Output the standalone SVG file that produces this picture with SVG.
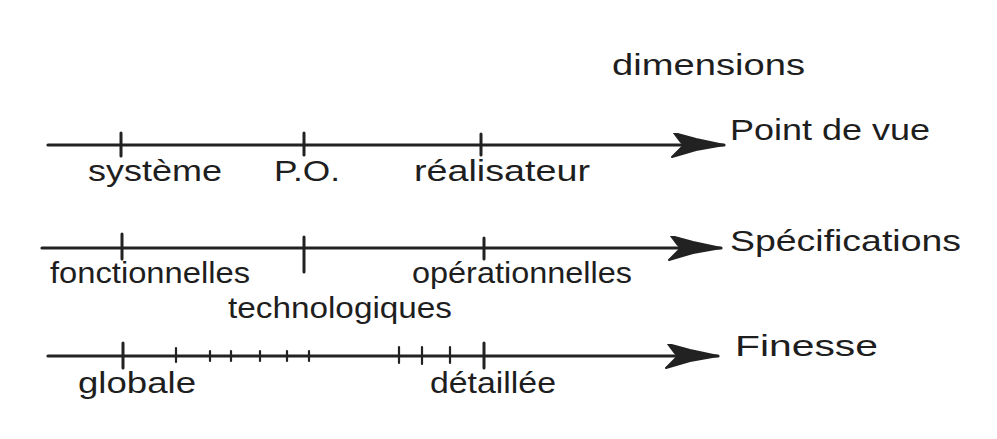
<svg xmlns="http://www.w3.org/2000/svg" width="997" height="439" viewBox="0 0 997 439">
<defs>
<marker id="ah" markerUnits="userSpaceOnUse" markerWidth="62" markerHeight="30" refX="56" refY="12" orient="auto">
<path d="M56,12 L28,6 L6,0 L12,8 L16,12 L10,18 L4,24 L28,17 Z" fill="#222" stroke="#222" stroke-width="2" stroke-linejoin="round"/>
</marker>
<style>
.ax{stroke:#222;stroke-width:3.2;fill:none;stroke-linecap:round}
.tk{stroke:#222;stroke-width:3;stroke-linecap:round}
.tks{stroke:#222;stroke-width:2.2;stroke-linecap:round}
text{font-family:"Liberation Sans","DejaVu Sans",sans-serif;fill:#1e1e1e;font-size:29px}
</style>
</defs>
<rect width="997" height="439" fill="#fff"/>
<g id="title"><text x="612" y="75" textLength="193" lengthAdjust="spacingAndGlyphs">dimensions</text></g>
<g id="connectors">
<line class="ax" x1="48" y1="145" x2="724" y2="145" marker-end="url(#ah)"/>
<line class="ax" x1="42" y1="248" x2="721" y2="248" marker-end="url(#ah)"/>
<line class="ax" x1="48" y1="356" x2="718" y2="356" marker-end="url(#ah)"/>
</g>
<g id="axis-point-de-vue">
<line class="tk" x1="121" y1="133" x2="121" y2="156"/>
<line class="tk" x1="304" y1="133" x2="304" y2="155"/>
<line class="tk" x1="481" y1="134" x2="481" y2="155"/>
<text x="88" y="181" textLength="134" lengthAdjust="spacingAndGlyphs">système</text>
<text x="274" y="181" textLength="66" lengthAdjust="spacingAndGlyphs">P.O.</text>
<text x="414" y="181" textLength="176" lengthAdjust="spacingAndGlyphs">réalisateur</text>
<text x="730" y="140" textLength="200" lengthAdjust="spacingAndGlyphs">Point de vue</text>
</g>
<g id="axis-specifications">
<line class="tk" x1="122" y1="234" x2="122" y2="259"/>
<line class="tk" x1="304" y1="237" x2="304" y2="272"/>
<line class="tk" x1="484" y1="238" x2="484" y2="259"/>
<text x="50" y="283" textLength="200" lengthAdjust="spacingAndGlyphs">fonctionnelles</text>
<text x="412" y="283" textLength="220" lengthAdjust="spacingAndGlyphs">opérationnelles</text>
<text x="228" y="318" textLength="224" lengthAdjust="spacingAndGlyphs">technologiques</text>
<text x="730" y="251" textLength="231" lengthAdjust="spacingAndGlyphs">Spécifications</text>
</g>
<g id="axis-finesse">
<line class="tk" x1="123" y1="343" x2="123" y2="368"/>
<line class="tk" x1="484" y1="343" x2="484" y2="368"/>
<line class="tks" x1="176" y1="348" x2="176" y2="362"/>
<line class="tks" x1="210" y1="351" x2="210" y2="361"/>
<line class="tks" x1="231" y1="351" x2="231" y2="361"/>
<line class="tks" x1="260" y1="351" x2="260" y2="361"/>
<line class="tks" x1="287" y1="351" x2="287" y2="361"/>
<line class="tks" x1="309" y1="351" x2="309" y2="361"/>
<line class="tks" x1="399" y1="347" x2="399" y2="363"/>
<line class="tks" x1="422" y1="347" x2="422" y2="364"/>
<line class="tks" x1="450" y1="347" x2="450" y2="363"/>
<text x="78" y="393" textLength="118" lengthAdjust="spacingAndGlyphs">globale</text>
<text x="430" y="393" textLength="126" lengthAdjust="spacingAndGlyphs">détaillée</text>
<text x="735" y="356" textLength="143" lengthAdjust="spacingAndGlyphs">Finesse</text>
</g>
</svg>
